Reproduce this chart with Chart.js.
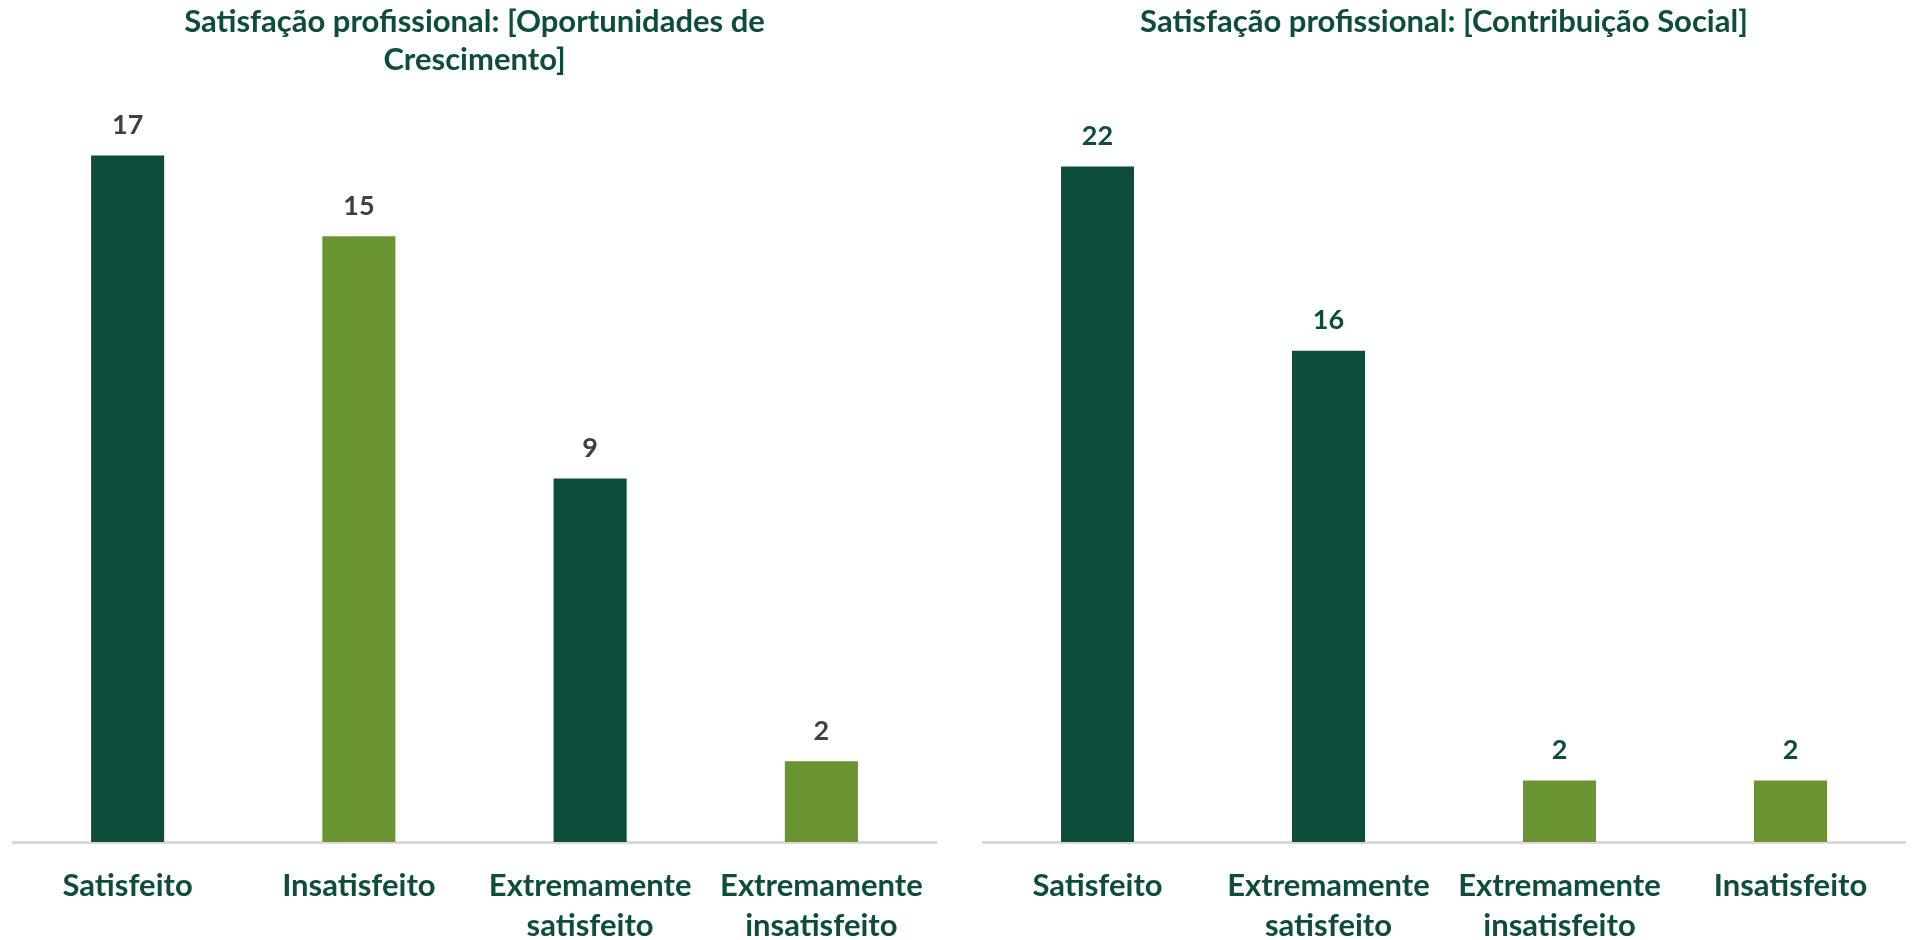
<!DOCTYPE html>
<html>
<head>
<meta charset="utf-8">
<script src="https://cdn.jsdelivr.net/npm/chart.js@4"></script>
<style>
  html, body { margin: 0; padding: 0; background: #ffffff; }
  body { width: 1913px; height: 940px; position: relative; overflow: hidden; }
  .box { position: absolute; top: 0; height: 940px; }
</style>
</head>
<body>
<div class="box" id="boxA" style="left:12px;width:925px;"><canvas id="chartA"></canvas></div>
<div class="box" id="boxB" style="left:982px;width:924px;"><canvas id="chartB"></canvas></div>
<script>
// ---- Data ----
const titleA = ["Satisfação profissional: [Oportunidades de", "Crescimento]"];
const categoriesA = [["Satisfeito"], ["Insatisfeito"], ["Extremamente", "satisfeito"], ["Extremamente", "insatisfeito"]];
const valuesA = [17, 15, 9, 2];

const titleB = ["Satisfação profissional: [Contribuição Social]"];
const categoriesB = [["Satisfeito"], ["Extremamente", "satisfeito"], ["Extremamente", "insatisfeito"], ["Insatisfeito"]];
const valuesB = [22, 16, 2, 2];

// ---- Styles ----
const DARK = "#0E4C3C";
const LIGHT = "#6A9432";
const colorsA = [DARK, LIGHT, DARK, LIGHT];
const colorsB = [DARK, DARK, LIGHT, LIGHT];
const FONT = "Lato, 'Open Sans', sans-serif";

const valueLabels = {
  id: "valueLabels",
  afterDatasetsDraw(chart, args, opts) {
    const ctx = chart.ctx;
    ctx.save();
    ctx.font = "bold 27px " + FONT;
    ctx.fillStyle = opts.color;
    ctx.textAlign = "center";
    ctx.textBaseline = "middle";
    const meta = chart.getDatasetMeta(0);
    meta.data.forEach((bar, i) => {
      ctx.fillText(String(chart.data.datasets[0].data[i]), bar.x, bar.y - 30);
    });
    ctx.restore();
  }
};

function makeChart(id, title, cats, vals, colors, yMax, titlePadBottom, labelColor) {
  return new Chart(document.getElementById(id), {
    type: "bar",
    data: {
      labels: cats,
      datasets: [{
        data: vals,
        backgroundColor: colors,
        borderWidth: 0,
        barPercentage: 0.316,
        categoryPercentage: 1.0
      }]
    },
    options: {
      responsive: true,
      maintainAspectRatio: false,
      animation: false,
      layout: { padding: { left: 0, right: 0, top: 0, bottom: 2 } },
      plugins: {
        legend: { display: false },
        tooltip: { enabled: false },
        title: {
          display: true,
          text: title,
          color: DARK,
          font: { family: FONT, size: 31, weight: "bold", lineHeight: "38px" },
          padding: { top: 3, bottom: titlePadBottom }
        },
        valueLabels: { color: labelColor }
      },
      scales: {
        x: {
          grid: { display: false, drawTicks: false },
          border: { display: true, color: "#D9D9D9", width: 3 },
          afterFit(scale) {
            scale.height = 96;
            scale.paddingLeft = 0;
            scale.paddingRight = 0;
          },
          ticks: {
            color: DARK,
            font: { family: FONT, size: 31, weight: "bold", lineHeight: "40px" },
            padding: 24,
            maxRotation: 0,
            minRotation: 0,
            autoSkip: false
          }
        },
        y: {
          display: false,
          min: 0,
          max: yMax
        }
      }
    },
    plugins: [valueLabels]
  });
}

makeChart("chartA", titleA, categoriesA, valuesA, colorsA, 18, 36, "#404040");
makeChart("chartB", titleB, categoriesB, valuesB, colorsB, 24, 64, DARK);
</script>
</body>
</html>
